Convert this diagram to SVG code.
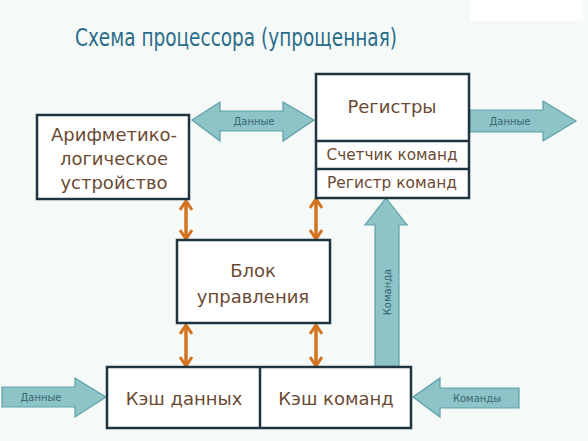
<svg xmlns="http://www.w3.org/2000/svg" width="588" height="441" viewBox="0 0 588 441">
<defs>
<style>
.box{fill:#ffffff;stroke:#1e3540;stroke-width:2.5}
.lbl{font-family:"DejaVu Sans","Noto Sans",sans-serif;fill:#6b4a33;text-anchor:middle;dominant-baseline:central}
.fat{fill:#8cc4c7;stroke:#5e9fa8;stroke-width:1.2}
.small{font-family:"DejaVu Sans","Noto Sans",sans-serif;font-size:10px;fill:#3b6673;text-anchor:middle;dominant-baseline:central}
.bus{stroke:#d4731f;stroke-width:3.5;fill:none;marker-start:url(#chev);marker-end:url(#chev)}
</style>
<marker id="chev" viewBox="0 0 12 14" refX="10" refY="7" markerWidth="12" markerHeight="14" markerUnits="userSpaceOnUse" orient="auto-start-reverse">
<path d="M1,1 L10,7 L1,13" fill="none" stroke="#d4731f" stroke-width="3"/>
</marker>
</defs>
<rect width="588" height="441" fill="#f5faf8"/>
<rect x="470" y="0" width="113" height="21" fill="#ffffff"/>
<text x="236" y="38" font-family="DejaVu Sans, Noto Sans, sans-serif" font-size="24" fill="#2b6c8a" text-anchor="middle" dominant-baseline="central" textLength="322" lengthAdjust="spacingAndGlyphs">Схема процессора (упрощенная)</text>

<g id="connectors">
<g id="data-alu-reg">
<polygon class="fat" points="192,120 220,102 220,111 283,111 283,102 314,120 283,141 283,131 220,131 220,141"/>
<text class="small" x="254" y="121">Данные</text>
</g>
<g id="data-out">
<polygon class="fat" points="470,110 543,110 543,101 576,121 543,141 543,132 470,132"/>
<text class="small" x="510" y="121">Данные</text>
</g>
<g id="data-in">
<polygon class="fat" points="2,387 75,387 75,378 106,397 75,417 75,407 2,407"/>
<text class="small" x="41" y="397">Данные</text>
</g>
<g id="cmd-in">
<polygon class="fat" points="413,397 440,378 440,388 519,388 519,408 440,408 440,417"/>
<text class="small" x="477" y="398">Команды</text>
</g>
<g id="cmd-up">
<polygon class="fat" points="386,198 407,225 399,225 399,367 375,367 375,225 365,225"/>
<text class="small" x="387" y="292" transform="rotate(-90 387 292)">Команда</text>
</g>
<line class="bus" x1="186" y1="201" x2="186" y2="239"/>
<line class="bus" x1="316" y1="199" x2="316" y2="239"/>
<line class="bus" x1="186" y1="325" x2="186" y2="366"/>
<line class="bus" x1="316" y1="325" x2="316" y2="366"/>
</g>

<g id="alu">
<rect class="box" x="37" y="115" width="152" height="84"/>
<text class="lbl" x="114" y="134" font-size="18">Арифметико-</text>
<text class="lbl" x="114" y="158" font-size="18">логическое</text>
<text class="lbl" x="114" y="182" font-size="18">устройство</text>
</g>
<g id="registers">
<rect class="box" x="316" y="74" width="153" height="124"/>
<line x1="316" y1="141" x2="469" y2="141" stroke="#1e3540" stroke-width="2.5"/>
<line x1="316" y1="169" x2="469" y2="169" stroke="#1e3540" stroke-width="2.5"/>
<text class="lbl" x="392" y="106" font-size="18">Регистры</text>
<text class="lbl" x="392" y="155" font-size="15" textLength="131" lengthAdjust="spacingAndGlyphs">Счетчик команд</text>
<text class="lbl" x="392" y="183" font-size="15" textLength="130" lengthAdjust="spacingAndGlyphs">Регистр команд</text>
</g>
<g id="control">
<rect class="box" x="177" y="240" width="153" height="83"/>
<text class="lbl" x="253" y="270" font-size="18">Блок</text>
<text class="lbl" x="253" y="296" font-size="18">управления</text>
</g>
<g id="cache">
<rect class="box" x="107" y="367" width="304" height="61"/>
<line x1="260" y1="367" x2="260" y2="428" stroke="#1e3540" stroke-width="2.5"/>
<text class="lbl" x="184" y="398" font-size="18">Кэш данных</text>
<text class="lbl" x="336" y="398" font-size="18">Кэш команд</text>
</g>
</svg>
